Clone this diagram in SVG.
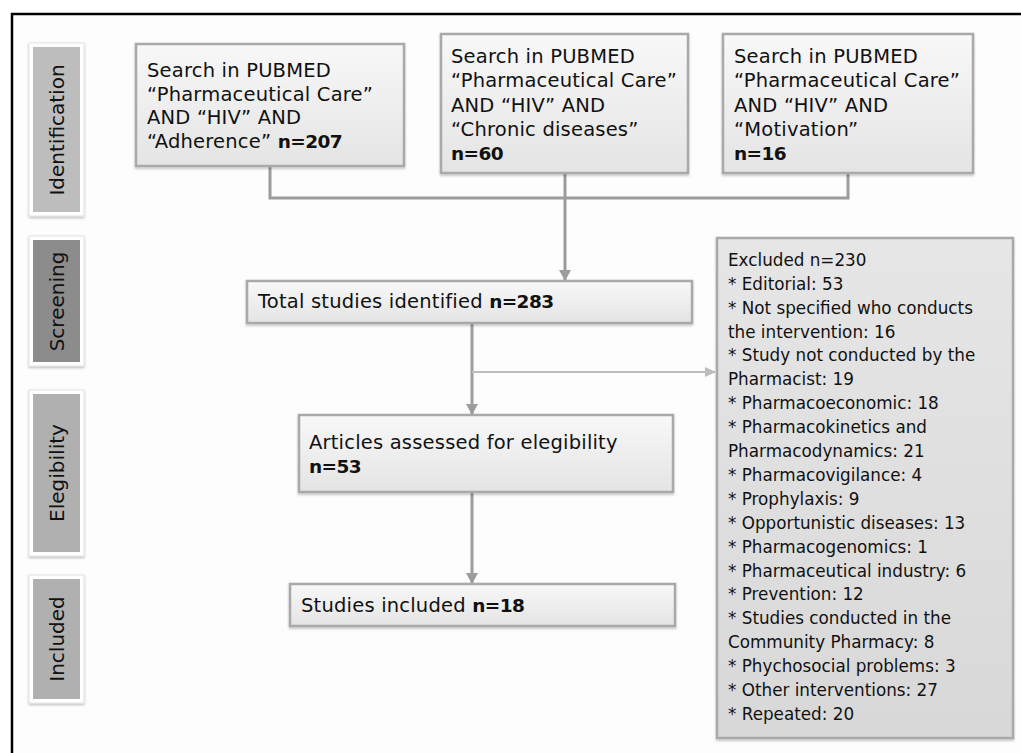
<svg xmlns="http://www.w3.org/2000/svg" width="1021" height="753" viewBox="0 0 1021 753">
<defs>
<linearGradient id="gBox" x1="0" y1="0" x2="0" y2="1">
<stop offset="0" stop-color="#f8f8f8"/>
<stop offset="1" stop-color="#e4e4e4"/>
</linearGradient>
<linearGradient id="gExc" x1="0" y1="0" x2="0" y2="1">
<stop offset="0" stop-color="#e6e6e6"/>
<stop offset="1" stop-color="#d8d8d8"/>
</linearGradient>
<filter id="sh" x="-10%" y="-10%" width="120%" height="130%">
<feDropShadow dx="0" dy="1.5" stdDeviation="1.2" flood-color="#000" flood-opacity="0.25"/>
</filter>
<marker id="arr" markerWidth="12" markerHeight="12" refX="10" refY="6" orient="auto" markerUnits="userSpaceOnUse">
<path d="M0,0 L11,6 L0,12 z" fill="#9c9c9c"/>
</marker>
<marker id="arrL" markerWidth="12" markerHeight="10" refX="10" refY="5" orient="auto" markerUnits="userSpaceOnUse">
<path d="M0,0 L11,5 L0,10 z" fill="#bdbdbd"/>
</marker>
</defs>
<style>
.t{font-family:"DejaVu Sans","Open Sans","Liberation Sans",sans-serif;font-size:19.5px;letter-spacing:0.2px;fill:#111}
.s{font-family:"DejaVu Sans","Open Sans","Liberation Sans",sans-serif;font-size:16.8px;fill:#111}
.lab{font-family:"DejaVu Sans","Open Sans","Liberation Sans",sans-serif;font-size:20px;fill:#111;text-anchor:middle}
.b{font-weight:bold;font-size:18.5px;letter-spacing:-0.6px}
.box{fill:url(#gBox);stroke:#a9a9a9;stroke-width:2.5;filter:url(#sh)}
.exc{fill:url(#gExc);stroke:#a9a9a9;stroke-width:2.5;filter:url(#sh)}
.outer{fill:#ffffff;stroke:#e2e2e2;stroke-width:1;filter:url(#sh)}
.ln{fill:none;stroke:#9c9c9c;stroke-width:3}
.lnL{fill:none;stroke:#bdbdbd;stroke-width:2}
</style>
<rect x="0" y="0" width="1021" height="753" fill="#ffffff"/>
<rect x="12" y="14" width="1020" height="760" fill="#fdfdfd" stroke="#000" stroke-width="2.5"/>

<g id="stage-identification">
<rect class="outer" x="29" y="43" width="55" height="173"/>
<rect x="33" y="47" width="47" height="165" fill="#bdbdbd"/>
<text class="lab" transform="translate(64,130) rotate(-90)">Identification</text>
</g>
<g id="stage-screening">
<rect class="outer" x="29" y="236" width="55" height="130"/>
<rect x="33" y="240" width="47" height="122" fill="#8c8c8c"/>
<text class="lab" transform="translate(64,301.5) rotate(-90)">Screening</text>
</g>
<g id="stage-elegibility">
<rect class="outer" x="29" y="390" width="55" height="166"/>
<rect x="33" y="394" width="47" height="158" fill="#b0b0b0"/>
<text class="lab" transform="translate(64,473) rotate(-90)">Elegibility</text>
</g>
<g id="stage-included">
<rect class="outer" x="29" y="575" width="55" height="128"/>
<rect x="33" y="579" width="47" height="120" fill="#b0b0b0"/>
<text class="lab" transform="translate(64,639) rotate(-90)">Included</text>
</g>

<g id="connectors">
<path class="ln" d="M270,166 V198 H848 V173"/>
<path class="ln" d="M565,173 V280" marker-end="url(#arr)"/>
<path class="ln" d="M472,323 V414" marker-end="url(#arr)"/>
<path class="lnL" d="M472,372 H715" marker-end="url(#arrL)"/>
<path class="ln" d="M472,492 V583" marker-end="url(#arr)"/>
</g>

<g id="search-adherence">
<rect class="box" x="136" y="44" width="268" height="122"/>
<text class="t" x="147" y="77">Search in PUBMED</text>
<text class="t" x="147" y="100.5">“Pharmaceutical Care”</text>
<text class="t" x="147" y="124">AND “HIV” AND</text>
<text class="t" x="147" y="147.5">“Adherence” <tspan class="b">n=207</tspan></text>
</g>
<g id="search-chronic">
<rect class="box" x="441" y="34" width="247" height="139"/>
<text class="t" x="451" y="63">Search in PUBMED</text>
<text class="t" x="451" y="87">“Pharmaceutical Care”</text>
<text class="t" x="451" y="111.5">AND “HIV” AND</text>
<text class="t" x="451" y="136">“Chronic diseases”</text>
<text class="t b" x="451" y="160">n=60</text>
</g>
<g id="search-motivation">
<rect class="box" x="723" y="34" width="250" height="139"/>
<text class="t" x="734" y="63">Search in PUBMED</text>
<text class="t" x="734" y="87">“Pharmaceutical Care”</text>
<text class="t" x="734" y="111.5">AND “HIV” AND</text>
<text class="t" x="734" y="136">“Motivation”</text>
<text class="t b" x="734" y="160">n=16</text>
</g>
<g id="total">
<rect class="box" x="247" y="281" width="445" height="42"/>
<text class="t" x="258" y="308">Total studies identified <tspan class="b">n=283</tspan></text>
</g>
<g id="assessed">
<rect class="box" x="299" y="415" width="374" height="77"/>
<text class="t" x="309" y="449">Articles assessed for elegibility</text>
<text class="t b" x="309" y="473">n=53</text>
</g>
<g id="included">
<rect class="box" x="290" y="584" width="385" height="42"/>
<text class="t" x="301" y="612">Studies included <tspan class="b">n=18</tspan></text>
</g>
<g id="excluded">
<rect class="exc" x="717" y="238" width="296" height="500"/>
<text class="s" x="728" y="266">Excluded n=230</text>
<text class="s" x="728" y="290">* Editorial: 53</text>
<text class="s" x="728" y="314">* Not specified who conducts</text>
<text class="s" x="728" y="338">the intervention: 16</text>
<text class="s" x="728" y="361">* Study not conducted by the</text>
<text class="s" x="728" y="385">Pharmacist: 19</text>
<text class="s" x="728" y="409">* Pharmacoeconomic: 18</text>
<text class="s" x="728" y="433">* Pharmacokinetics and</text>
<text class="s" x="728" y="457">Pharmacodynamics: 21</text>
<text class="s" x="728" y="481">* Pharmacovigilance: 4</text>
<text class="s" x="728" y="505">* Prophylaxis: 9</text>
<text class="s" x="728" y="529">* Opportunistic diseases: 13</text>
<text class="s" x="728" y="553">* Pharmacogenomics: 1</text>
<text class="s" x="728" y="577">* Pharmaceutical industry: 6</text>
<text class="s" x="728" y="600">* Prevention: 12</text>
<text class="s" x="728" y="624">* Studies conducted in the</text>
<text class="s" x="728" y="648">Community Pharmacy: 8</text>
<text class="s" x="728" y="672">* Phychosocial problems: 3</text>
<text class="s" x="728" y="696">* Other interventions: 27</text>
<text class="s" x="728" y="720">* Repeated: 20</text>
</g>
</svg>
